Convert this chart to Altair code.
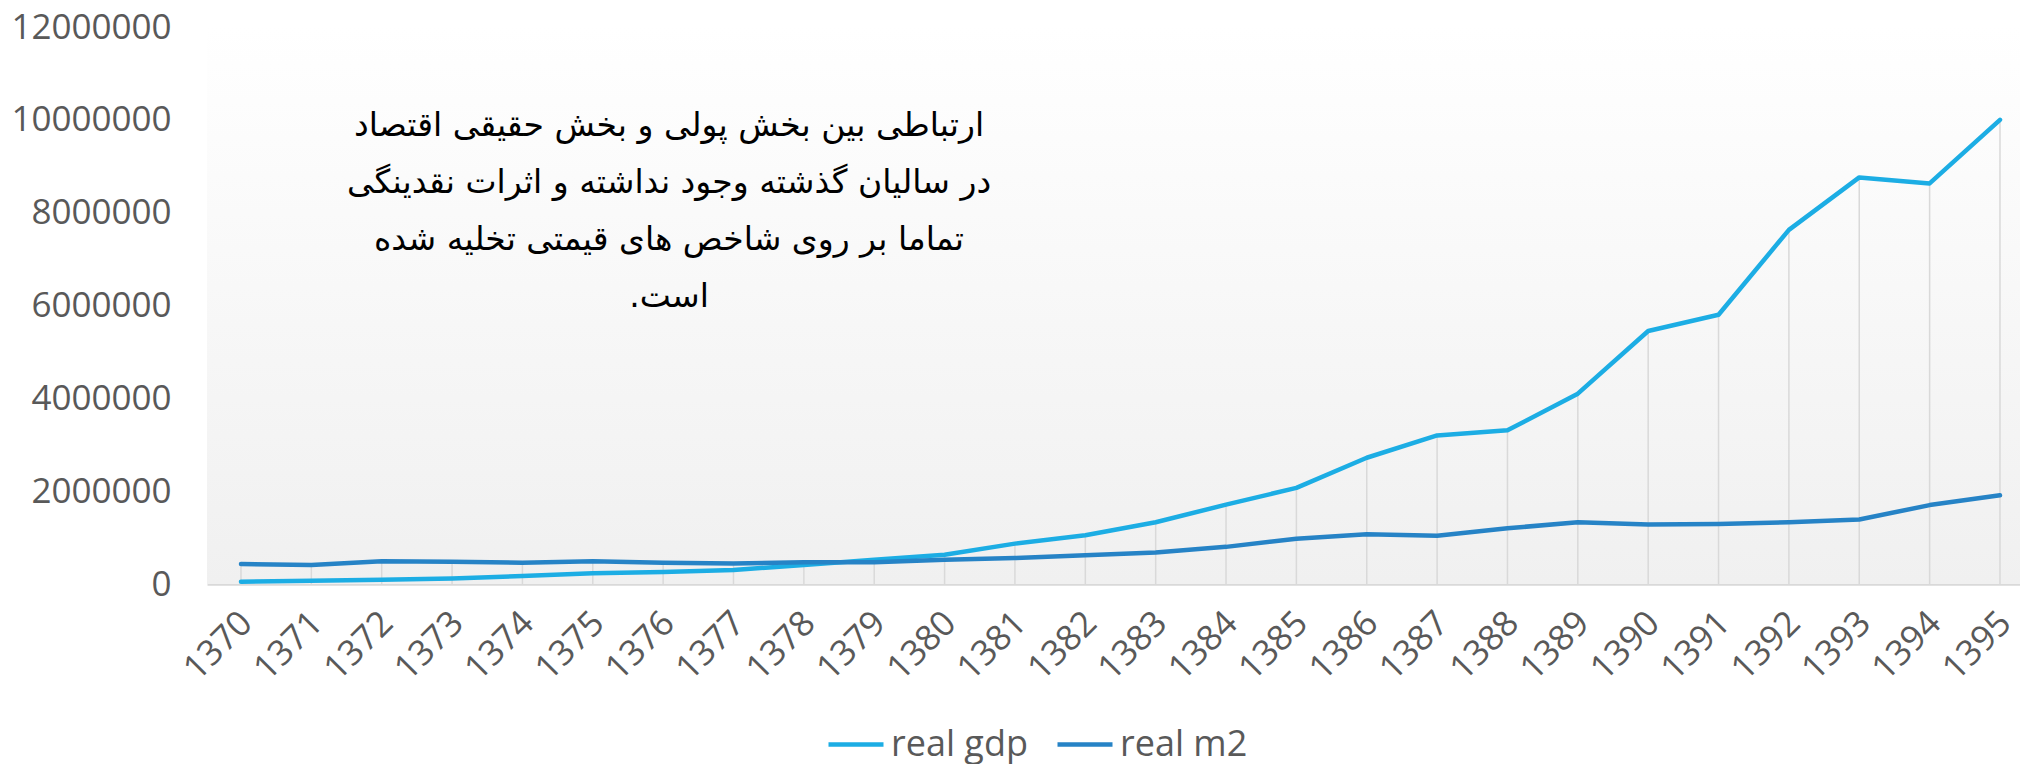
import altair as alt
import pandas as pd

# ---- data ----
years = list(range(1370, 1396))
real_gdp = [50000, 70000, 90000, 120000, 170000, 230000, 260000, 300000, 410000, 520000,
            630000, 870000, 1050000, 1330000, 1710000, 2070000, 2720000, 3200000, 3310000,
            4100000, 5450000, 5800000, 7630000, 8760000, 8630000, 10000000]
real_m2 = [430000, 410000, 490000, 480000, 460000, 490000, 460000, 440000, 470000, 470000,
           520000, 560000, 620000, 680000, 800000, 975000, 1070000, 1040000, 1200000,
           1330000, 1280000, 1290000, 1330000, 1390000, 1700000, 1910000]
series_names = ["real gdp", "real m2"]
series_colors = ["#1CADE4", "#2683C6"]
y_ticks = [0, 2000000, 4000000, 6000000, 8000000, 10000000, 12000000]
note_lines = [
    "ارتباطی بین بخش پولی و بخش حقیقی اقتصاد",
    "در سالیان گذشته وجود نداشته و اثرات نقدینگی",
    "تماما بر روی شاخص های قیمتی تخلیه شده",
    "است.\u200f",
]

W = 1813
H = 557
TOP = 19
TOTAL_H = 756
FONT = "Open Sans"
GRAY = "#595959"

df = pd.DataFrame({"year": years, "real gdp": real_gdp, "real m2": real_m2})

xscale = alt.Scale(domain=[1369.517, 1369.517 + W / 70.36], nice=False, zero=False)
yscale = alt.Scale(domain=[0, 12000000], nice=False)

bg = alt.Chart(pd.DataFrame({"k": [0]})).mark_rect(
    color=alt.LinearGradient(
        gradient="linear",
        stops=[alt.GradientStop(color="#ffffff", offset=0),
               alt.GradientStop(color="#f0f0f0", offset=1)],
        x1=0, x2=0, y1=0, y2=1,
    )
).encode(x=alt.value(0), x2=alt.value(W), y=alt.value(0), y2=alt.value(H))

drops = alt.Chart(df).transform_calculate(
    top="max(datum['real gdp'], datum['real m2'])"
).mark_rule(color="#d9d9d9", strokeWidth=1.5).encode(
    x=alt.X("year:Q", scale=xscale,
            axis=alt.Axis(values=years, format="d", title=None, grid=False,
                          labelAngle=-45, labelAlign="right", labelBaseline="middle",
                          labelFontSize=35, labelFont=FONT, labelColor=GRAY,
                          labelPadding=33, labelOffset=5, ticks=False, tickSize=0,
                          domainColor="#d9d9d9", domainWidth=2.5,
                          labelOverlap=False, labelFlush=False)),
    y=alt.Y("top:Q", scale=yscale,
            axis=alt.Axis(values=y_ticks, format="d", title=None, grid=False,
                          domain=False, ticks=False, tickSize=0, labelPadding=36,
                          labelFontSize=35, labelFont=FONT, labelColor=GRAY)),
    y2=alt.datum(0),
)

lines = alt.Chart(df).transform_fold(
    series_names, as_=["series", "value"]
).mark_line(strokeWidth=4.5, strokeCap="round", strokeJoin="round").encode(
    x=alt.X("year:Q", scale=xscale),
    y=alt.Y("value:Q", scale=yscale),
    color=alt.Color("series:N",
                    scale=alt.Scale(domain=series_names, range=series_colors),
                    legend=alt.Legend(orient="none", legendX=619, legendY=742 - 27.5 - 8 - TOP,
                                      direction="horizontal", title=None,
                                      symbolType="stroke", symbolSize=3025,
                                      symbolStrokeWidth=4.5, labelFontSize=36,
                                      labelFont=FONT, labelColor=GRAY,
                                      labelOffset=5, columnPadding=20, padding=0)),
)

note = alt.Chart(pd.DataFrame({"k": [0]})).mark_text(
    text=note_lines, fontSize=33, lineHeight=57, align="center", baseline="middle",
    font="DejaVu Sans", color="#000000",
).encode(x=alt.value(462), y=alt.value(126 - 8 - TOP))

chart = alt.layer(bg, drops, lines, note).properties(
    width=W, height=H,
    autosize=alt.AutoSizeParams(type="none"),
    padding={"left": 199, "top": TOP, "right": 0, "bottom": TOTAL_H - TOP - H},
).configure_view(stroke=None)

chart.save("out.html", embed_options={"renderer": "svg", "actions": False})
